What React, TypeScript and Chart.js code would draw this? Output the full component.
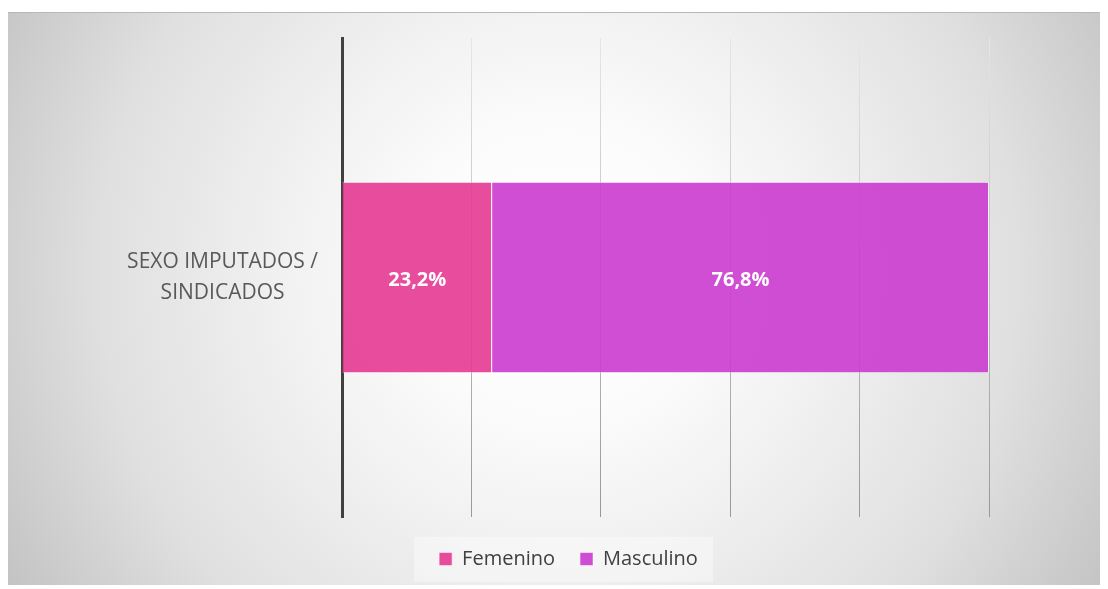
import React, { useEffect, useRef } from "react";
import { Chart, registerables } from "chart.js";

Chart.register(...registerables);

const categories = [["SEXO IMPUTADOS /", "SINDICADOS"]];
const seriesNames = ["Femenino", "Masculino"];
const femenino = [0.232];
const masculino = [0.768];
const xTicks = [0, 0.2, 0.4, 0.6, 0.8, 1.0];

const seriesFill = ["rgba(229,56,145,0.9)", "rgba(202,59,206,0.9)"];
const FONT = "'Open Sans', 'DejaVu Sans', sans-serif";

const dataLabelPlugin = {
  id: "dataLabels",
  afterDatasetsDraw(chart: any) {
    const ctx = chart.ctx;
    ctx.save();
    ctx.fillStyle = "#ffffff";
    ctx.font = `bold 20px ${FONT}`;
    ctx.textAlign = "center";
    ctx.textBaseline = "middle";
    chart.data.datasets.forEach((ds: any, i: number) => {
      const meta = chart.getDatasetMeta(i);
      meta.data.forEach((bar: any, j: number) => {
        const v = ds.data[j];
        const p = bar.getCenterPoint();
        const txt = (v * 100).toFixed(1).replace(".", ",") + "%";
        ctx.fillText(txt, p.x, p.y + 3);
      });
    });
    ctx.restore();
  },
};

const legendShiftPlugin = {
  id: "legendShift",
  afterLayout(chart: any) {
    const lg = chart.legend;
    if (!lg) return;
    lg.left += 20;
    lg.right += 20;
  },
};

const legendBgPlugin = {
  id: "legendBg",
  beforeDraw(chart: any) {
    const lg = chart.legend;
    if (!lg || !lg.legendHitBoxes || !lg.legendHitBoxes.length) return;
    const hb = lg.legendHitBoxes;
    const first = hb[0];
    const last = hb[hb.length - 1];
    const left = first.left - 25;
    const right = last.left + last.width + 15;
    const cy = first.top + first.height / 2;
    const ctx = chart.ctx;
    ctx.save();
    ctx.fillStyle = "rgba(255,255,255,0.38)";
    ctx.fillRect(left, cy - 22, right - left, 45);
    ctx.restore();
  },
};

export default function App() {
  const canvasRef = useRef<HTMLCanvasElement | null>(null);

  useEffect(() => {
    document.documentElement.style.overflow = "hidden";
    document.body.style.overflow = "hidden";
    const canvas = canvasRef.current;
    if (!canvas) return;
    const chart = new Chart(canvas, {
      type: "bar",
      data: {
        labels: categories as any,
        datasets: [
          {
            label: seriesNames[0],
            data: femenino,
            backgroundColor: seriesFill[0],
            borderColor: "rgba(255,255,255,0.5)",
            borderWidth: 1,
            barPercentage: 0.4,
            categoryPercentage: 1,
          },
          {
            label: seriesNames[1],
            data: masculino,
            backgroundColor: seriesFill[1],
            borderColor: "rgba(255,255,255,0.5)",
            borderWidth: 1,
            barPercentage: 0.4,
            categoryPercentage: 1,
          },
        ],
      },
      options: {
        indexAxis: "y",
        animation: false,
        responsive: false,
        maintainAspectRatio: false,
        layout: { padding: { left: 100, right: 119, top: 26, bottom: 10 } },
        plugins: {
          tooltip: { enabled: false },
          legend: {
            display: true,
            position: "bottom",
            labels: {
              boxWidth: 13,
              boxHeight: 13,
              padding: 25,
              color: "#404040",
              font: { family: FONT, size: 20 },
            },
          },
        },
        scales: {
          x: {
            stacked: true,
            min: 0,
            max: 1,
            afterBuildTicks: (scale: any) => {
              scale.ticks = xTicks.map((v) => ({ value: v }));
            },
            afterFit: (scale: any) => {
              scale.height = 7;
              scale.paddingLeft = 0;
              scale.paddingRight = 0;
            },
            ticks: { display: false },
            border: { display: false },
            grid: {
              drawTicks: false,
              lineWidth: 1,
              color: (c: any) => {
                const ch = c.chart;
                const area = ch.chartArea;
                if (!area) return "#cccccc";
                const g = ch.ctx.createLinearGradient(0, area.top, 0, area.bottom);
                g.addColorStop(0, "#e6e6e6");
                g.addColorStop(1, "#989898");
                return g;
              },
            },
          },
          y: {
            stacked: true,
            afterFit: (scale: any) => {
              scale.width = 234;
              scale.paddingTop = 0;
              scale.paddingBottom = 0;
            },
            border: { display: true, color: "#404040", width: 3 },
            grid: { display: false, drawTicks: false },
            ticks: {
              crossAlign: "center",
              padding: 24,
              color: "#595959",
              font: { family: FONT, size: 21, lineHeight: 1.48 },
            },
          },
        },
      },
      plugins: [legendShiftPlugin, dataLabelPlugin, legendBgPlugin],
    });
    return () => chart.destroy();
  }, []);

  return (
    <div
      style={{
        position: "relative",
        top: 4,
        width: 1100,
        height: 577,
        background:
          "radial-gradient(circle farthest-corner at 50% 45%, #ffffff 0%, #fcfcfc 22%, #f0f0f0 45%, #e0e0e0 72%, #c3c3c3 100%)",
        boxShadow: "inset 0 1px 0 #b8b8b8",
      }}
    >
      <canvas ref={canvasRef} width={1100} height={577} style={{ display: "block" }} />
    </div>
  );
}
